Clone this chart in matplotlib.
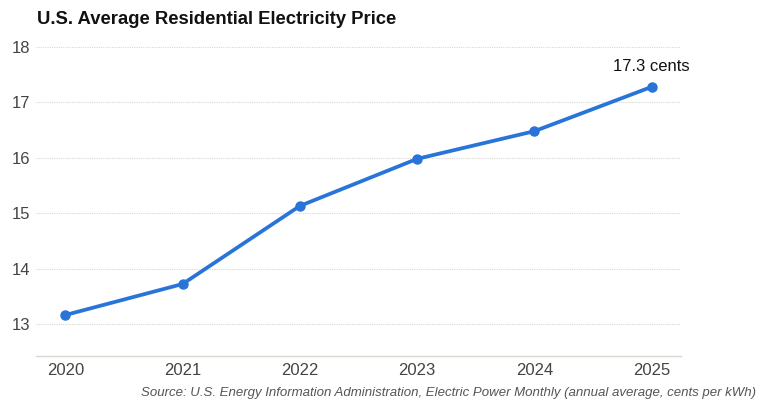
import matplotlib
matplotlib.use("Agg")
import matplotlib.pyplot as plt

years = [2020, 2021, 2022, 2023, 2024, 2025]
prices = [13.16, 13.72, 15.13, 15.98, 16.48, 17.28]
yticks = [13, 14, 15, 16, 17, 18]
title = "U.S. Average Residential Electricity Price"
source = "Source: U.S. Energy Information Administration, Electric Power Monthly (annual average, cents per kWh)"
end_label = "17.3 cents"

plt.rcParams['font.family'] = ['Liberation Sans', 'DejaVu Sans']

fig = plt.figure(figsize=(7.67, 4.11), dpi=100)
ax = fig.add_axes([36/767, 55/411, (681-36)/767, (356-47)/411])

color = "#2874d8"
ax.plot(years, prices, color=color, lw=2.7, marker="o", ms=6.5, zorder=3)

ax.set_xlim(2019.75, 2025.25)
ax.set_ylim(12.42, 18.0)
ax.set_yticks(yticks)
ax.set_xticks(years)
ax.set_xticklabels([str(y) for y in years])

for y in yticks:
    ax.axhline(y, color="#d8d8d0", lw=0.8, ls=(0, (1, 1)), zorder=1)

for s in ["top", "right", "left"]:
    ax.spines[s].set_visible(False)
ax.spines["bottom"].set_color("#d8d8d0")
ax.spines["bottom"].set_linewidth(1.0)

ax.tick_params(axis="both", length=0, labelsize=12, labelcolor="#444444")
ax.tick_params(axis="x", pad=5)
ax.tick_params(axis="y", pad=4)

ax.annotate(end_label, (years[-1], prices[-1]), xytext=(0, 9), textcoords="offset points",
            ha="center", va="bottom", fontsize=12, color="#111111")

fig.text(37/767, 1 - 19/411, title, fontsize=13.3, fontweight="bold", va="center", ha="left", color="#111111")
fig.text(756/767, 1 - 393/411, source, fontsize=9.5, style="italic", color="#555555", ha="right", va="center")

fig.savefig("out.png", dpi=100)
